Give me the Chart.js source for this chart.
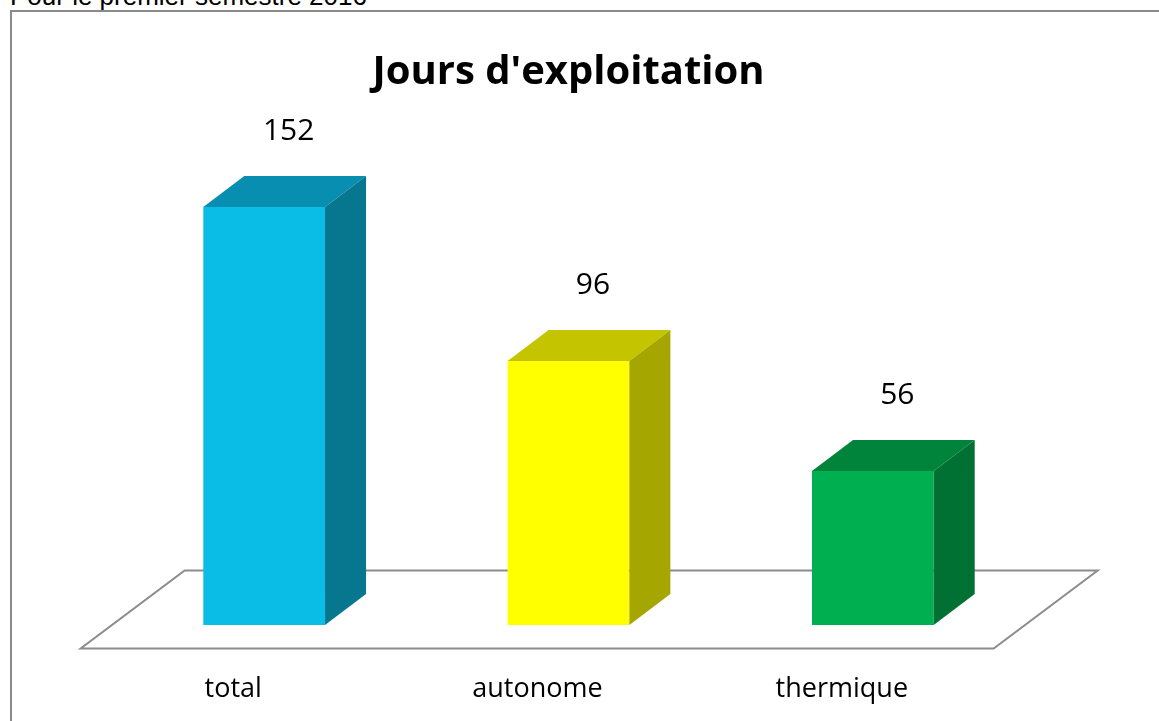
<!DOCTYPE html>
<html>
<head>
<meta charset="utf-8">
<title>Jours d'exploitation</title>
<script src="https://cdn.jsdelivr.net/npm/chart.js@4"></script>
<style>
    body {
        margin: 0;
        overflow: hidden;
        background: #fff;
        width: 1159px;
        height: 721px;
        position: relative;
    }
    #note {
        position: absolute;
        left: 10px;
        top: -17px;
        font: 26px "Liberation Sans", Arial, sans-serif;
        line-height: 26px;
        color: #000;
        white-space: nowrap;
    }
    #frame {
        position: absolute;
        left: 10px;
        top: 10px;
        width: 1300px;
        height: 900px;
        border: 2px solid #8a8a8a;
    }
    #chart {
        position: absolute;
        left: 0;
        top: 0;
    }
</style>
</head>
<body>
<div id="note">Pour le premier semestre 2016</div>
<div id="frame"></div>
<canvas id="chart" width="1159" height="760"></canvas>

<script>
const categories = ['total', 'autonome', 'thermique'];
const values = [152, 96, 56];
const chartTitle = "Jours d'exploitation";

const frontColors = ['#0ABDE6', '#FFFF00', '#00B050'];
const topColors = ['#088EB0', '#C4C400', '#00843C'];
const sideColors = ['#07778F', '#A6A600', '#007033'];

// pseudo 3d depth, in pixels
const barDepth = { dx: 41, dy: 31 };
const floorDepth = { dx: 104, dy: 78 };

const floorPlugin = {
    id: 'floor',
    beforeDatasetsDraw(chart) {
        const ctx = chart.ctx;
        const area = chart.chartArea;
        const base = chart.scales.y.getPixelForValue(0);
        const gy = (floorDepth.dy - barDepth.dy) / 2;
        const gx = gy * floorDepth.dx / floorDepth.dy;
        const fl = area.left - gx, fr = area.right - gx, fy = base + gy;
        ctx.save();
        ctx.strokeStyle = '#8c8c8c';
        ctx.lineWidth = 2;
        ctx.beginPath();
        ctx.moveTo(fl, fy);
        ctx.lineTo(fr, fy);
        ctx.lineTo(fr + floorDepth.dx, fy - floorDepth.dy);
        ctx.lineTo(fl + floorDepth.dx, fy - floorDepth.dy);
        ctx.closePath();
        ctx.stroke();
        ctx.restore();
    }
};

const boxPlugin = {
    id: 'box3d',
    afterDatasetsDraw(chart) {
        const ctx = chart.ctx;
        const meta = chart.getDatasetMeta(0);
        const { dx, dy } = barDepth;
        ctx.save();
        meta.data.forEach((bar, i) => {
            const p = bar.getProps(['x', 'y', 'base', 'width'], true);
            const l = p.x - p.width / 2, r = p.x + p.width / 2;

            ctx.fillStyle = topColors[i];
            ctx.beginPath();
            ctx.moveTo(l, p.y);
            ctx.lineTo(l + dx, p.y - dy);
            ctx.lineTo(r + dx, p.y - dy);
            ctx.lineTo(r, p.y);
            ctx.closePath();
            ctx.fill();

            ctx.fillStyle = sideColors[i];
            ctx.beginPath();
            ctx.moveTo(r, p.y);
            ctx.lineTo(r + dx, p.y - dy);
            ctx.lineTo(r + dx, p.base - dy);
            ctx.lineTo(r, p.base);
            ctx.closePath();
            ctx.fill();

            ctx.fillStyle = '#000';
            ctx.font = '30px "Open Sans", sans-serif';
            ctx.textAlign = 'center';
            ctx.textBaseline = 'middle';
            ctx.fillText(String(values[i]), p.x + dx / 2 + 4, p.y - dy - 45);
        });
        ctx.restore();
    }
};

window.addEventListener('DOMContentLoaded', () => {
    new Chart(document.getElementById('chart'), {
        type: 'bar',
        data: {
            labels: categories,
            datasets: [{
                data: values,
                backgroundColor: frontColors,
                borderWidth: 0,
                categoryPercentage: 1,
                barPercentage: 0.4
            }]
        },
        options: {
            responsive: false,
            animation: false,
            layout: {
                padding: { left: 112, right: 134, top: 0, bottom: 6.6 }
            },
            plugins: {
                legend: { display: false },
                tooltip: { enabled: false },
                title: {
                    display: true,
                    text: chartTitle,
                    color: '#000',
                    font: { family: '"Open Sans", sans-serif', size: 40, weight: 'bold', lineHeight: 1.2 },
                    padding: { top: 48.4, bottom: 88.6 }
                }
            },
            scales: {
                y: {
                    display: false,
                    min: 0,
                    max: 160
                },
                x: {
                    grid: { display: false, drawTicks: false },
                    border: { display: false },
                    ticks: {
                        color: '#000',
                        font: { family: '"Open Sans", sans-serif', size: 27, lineHeight: 1.2 },
                        padding: 48,
                        labelOffset: -31
                    }
                }
            }
        },
        plugins: [floorPlugin, boxPlugin]
    });
});
</script>
</body>
</html>
